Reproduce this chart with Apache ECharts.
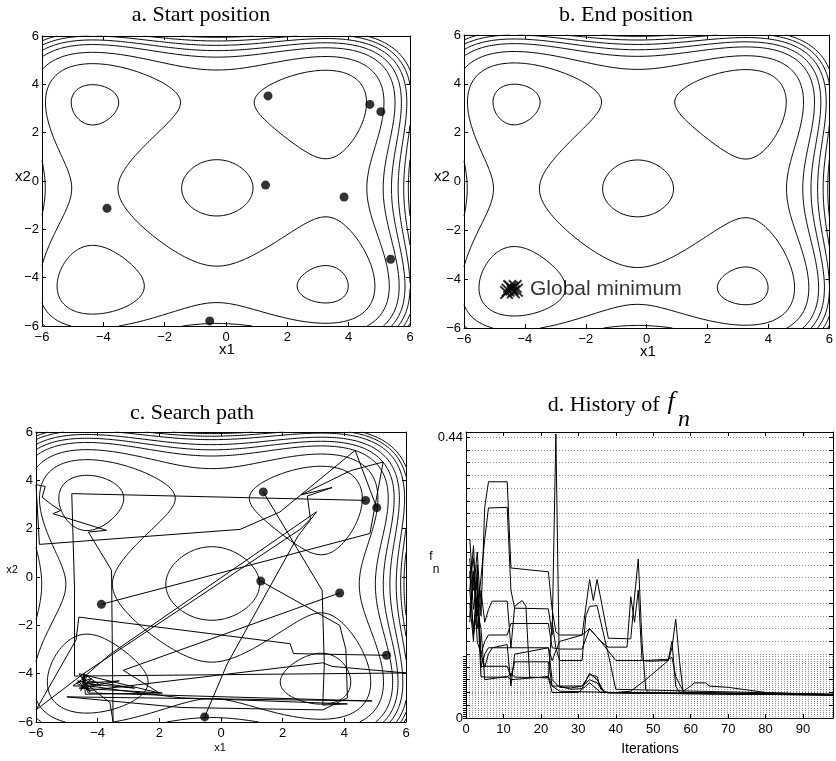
<!DOCTYPE html>
<html>
<head>
<meta charset="utf-8">
<title>Particle swarm search</title>
<script src="https://cdn.jsdelivr.net/npm/echarts@6/dist/echarts.min.js"></script>
<style>
  html, body { margin: 0; padding: 0; background: #fff; }
  #chart { width: 836px; height: 761px; }
</style>
</head>
<body>
<div id="chart"></div>
<script>
// ---- values ----
const searchXLabels = ['−6', '−4', '2', '0', '2', '4', '6']; // panel c prints "2" at -2

// cost surface: separable quartic, turning points of each coordinate
const turningPoints = [-4.35, -0.3, 3.25];
const levelsAB = [-95, -52, -8, 33, 62, 90, 117, 142];
const levelsC = [-88, -52, -14, 22, 47, 72, 100, 122, 140];

// particles at the start
const startX = [1.37, 4.69, 5.05, 1.29, 3.85, -3.88, 5.37, -0.53];
const startY = [3.52, 3.17, 2.87, -0.17, -0.66, -1.13, -3.24, -5.79];

// particles at the end
const endX = [-4.55, -4.45, -4.38, -4.32, -4.5, -4.28, -4.6, -4.42];
const endY = [-4.45, -4.35, -4.52, -4.3, -4.3, -4.45, -4.55, -4.4];
const minLabelAt = [-3.85, -4.4];

// search paths, one per particle
const path0 = [[1.37,3.52],[3.28,-0.55],[3.35,-3.6],[3.3,-5.3],[4.1,-5.25],[-1.3,-5.0],[-3.2,-4.7],[-4.3,-4.5],[-4.45,-4.4]];
const path1 = [[4.69,3.17],[-4.84,3.45],[-4.75,-0.5],[-4.75,-4.1],[6.0,-3.97],[3.6,-3.7],[3.3,-3.55],[-4.3,-4.7],[-4.45,-4.4]];
const path2 = [[5.05,2.87],[4.35,5.24],[1.91,2.69],[0.62,1.97],[-5.89,1.35],[-6,3.82],[-5.7,3.75],[-5.8,3.3],[-5.5,3.0],
               [-5.2,2.75],[-5.45,2.62],[-3.71,1.93],[-4.3,1.86],[-3.55,0.28],[-3.5,-6.0],[-3.6,-5.2],[-4.5,-4.3],[-4.45,-4.4]];
const path3 = [[-3.88,-1.13],[4.83,1.8],[5.26,4.76],[4.2,4.4],[2.6,3.4],[3.6,3.7],[2.8,3.35],[2.9,2.4],[2.6,2.0],[-4.46,-4.0],[-4.4,-4.4]];
const path4 = [[1.29,-0.17],[3.85,-2.0],[4.05,-3.0],[4.1,-5.0],[3.3,-5.5],[-1.3,-5.4],[-5.0,-4.96],[4.9,-5.13],[-4.3,-4.8],[-4.45,-4.4]];
const path5 = [[3.85,-0.66],[-3.17,-3.86],[-2.0,-4.8],[-4.6,-4.0],[-4.3,-4.6],[-4.7,-4.4],[-4.2,-4.2],[-4.55,-4.7],[-4.35,-4.1],
               [-4.8,-4.5],[-4.1,-4.55],[-4.5,-4.15],[-4.25,-4.75],[-4.65,-4.3],[-3.9,-4.5],[-4.45,-4.0],[-4.4,-4.85],
               [-1.9,-4.8],[-4.6,-4.6],[-3.3,-4.3],[-4.5,-4.4],[-2.8,-4.6],[-4.3,-4.3]];
const path6 = [[5.37,-3.24],[2.35,-3.17],[2.24,-2.76],[-4.61,-1.66],[-4.7,-2.6],[-6.0,-5.5],[-4.46,-4.0],[-4.4,-4.4]];
const path7 = [[-0.53,-5.79],[0.2,-3.6],[2.5,1.7],[3.1,2.7],[-3.6,-3.2],[-4.5,-4.2],[-4.42,-4.42]];
const searchPaths = [path0, path1, path2, path3, path4, path5, path6, path7];

// history of f_n, [iteration, value] per particle
const hist0 = [[1,0.28],[2,0.2],[3,0.26],[4,0.16],[5,0.33],[6,0.37],[11,0.37],[12,0.235],[17,0.232],[22,0.229],[23,0.17],[24,0.135],[25,0.13],[31,0.13],[33,0.217],[34,0.184],[35,0.217],[38,0.125],[44,0.124],[45,0.19],[46,0.249],[47,0.12],[48,0.045],[49,0.039],[60,0.038],[98,0.036]];
const hist1 = [[1,0.22],[2,0.25],[3,0.16],[4,0.22],[5,0.28],[6,0.329],[11,0.33],[12,0.2],[13,0.172],[22,0.171],[23,0.13],[24,0.445],[25,0.05],[28,0.045],[31,0.046],[33,0.07],[35,0.06],[37,0.04],[98,0.036]];
const hist2 = [[1,0.2],[2,0.27],[3,0.14],[4,0.2],[5,0.15],[6,0.17],[7,0.183],[11,0.183],[12,0.11],[13,0.175],[15,0.184],[16,0.175],[17,0.064],[22,0.063],[23,0.15],[24,0.11],[25,0.09],[31,0.09],[32,0.16],[33,0.175],[35,0.176],[36,0.15],[38,0.1],[40,0.045],[98,0.037]];
const hist3 = [[1,0.15],[2,0.22],[3,0.2],[4,0.1],[5,0.12],[6,0.13],[11,0.13],[12,0.148],[22,0.148],[23,0.11],[25,0.108],[31,0.108],[33,0.14],[36,0.12],[38,0.111],[43,0.111],[44,0.19],[45,0.15],[46,0.2],[47,0.09],[49,0.089],[54,0.09],[55,0.11],[56,0.155],[57,0.09],[58,0.04],[98,0.036]];
const hist4 = [[1,0.18],[2,0.12],[3,0.24],[4,0.08],[5,0.1],[6,0.11],[11,0.11],[12,0.11],[22,0.11],[23,0.06],[25,0.048],[28,0.047],[31,0.05],[33,0.06],[35,0.055],[37,0.04],[98,0.037]];
const hist5 = [[1,0.25],[2,0.17],[3,0.22],[4,0.08],[5,0.081],[11,0.081],[12,0.065],[13,0.088],[22,0.088],[23,0.05],[25,0.05],[31,0.05],[33,0.068],[35,0.065],[36,0.045],[38,0.039],[98,0.036]];
const hist6 = [[1,0.2],[2,0.14],[3,0.19],[4,0.065],[5,0.064],[11,0.064],[12,0.07],[13,0.064],[22,0.063],[23,0.04],[30,0.04],[33,0.055],[34,0.05],[36,0.04],[98,0.037]];
const hist7 = [[1,0.16],[2,0.23],[3,0.12],[4,0.1],[5,0.08],[6,0.1],[7,0.11],[11,0.115],[12,0.05],[13,0.1],[22,0.11],[23,0.09],[25,0.12],[31,0.13],[33,0.14],[36,0.12],[40,0.09],[48,0.09],[54,0.092],[55,0.095],[56,0.065],[58,0.042],[60,0.05],[61,0.055],[64,0.055],[65,0.05],[70,0.048],[80,0.04],[98,0.036]];
const hist8 = [[1,0.23],[2,0.13],[3,0.17],[4,0.14],[5,0.06],[11,0.065],[12,0.06],[22,0.065],[23,0.05],[25,0.042],[31,0.041],[40,0.04],[44,0.042],[48,0.06],[52,0.08],[54,0.09],[55,0.12],[56,0.05],[57,0.04],[98,0.037]];
const histories = [hist0, hist1, hist2, hist3, hist4, hist5, hist6, hist7, hist8];

// ---- helpers ----
const SANS = 'Liberation Sans, Arial, Helvetica, sans-serif';
const SERIF = 'Liberation Serif, Times New Roman, serif';
const minus = v => (v < 0 ? '−' + (-v) : String(v));

function g(t) {
  const [a, b, c] = turningPoints;
  const s1 = a + b + c, s2 = a * b + b * c + a * c, s3 = a * b * c;
  return t * t * t * t / 4 - s1 * t * t * t / 3 + s2 * t * t / 2 - s3 * t;
}
function surface(x, y) { return g(x) + g(y); }

// marching squares, segments chained into polylines
function contourPaths(levels) {
  const N = 161, lo = -6, step = 12 / (N - 1);
  const z = [];
  for (let i = 0; i < N; i++) {
    z.push([]);
    for (let j = 0; j < N; j++) z[i].push(surface(lo + i * step, lo + j * step));
  }
  const out = [];
  levels.forEach(L => {
    const pts = {}, adj = {};
    const link = (k1, k2) => {
      (adj[k1] = adj[k1] || []).push(k2);
      (adj[k2] = adj[k2] || []).push(k1);
    };
    const pt = (key, x1, y1, z1, x2, y2, z2) => {
      if (!pts[key]) {
        const t = (L - z1) / (z2 - z1);
        pts[key] = [x1 + t * (x2 - x1), y1 + t * (y2 - y1)];
      }
      return key;
    };
    const cross = (p, q) => (p < L) !== (q < L);
    for (let i = 0; i < N - 1; i++) {
      for (let j = 0; j < N - 1; j++) {
        const x0 = lo + i * step, x1 = x0 + step, y0 = lo + j * step, y1 = y0 + step;
        const za = z[i][j], zb = z[i + 1][j], zc = z[i + 1][j + 1], zd = z[i][j + 1];
        const e = [null, null, null, null];
        if (cross(za, zb)) e[0] = pt('h' + i + '_' + j, x0, y0, za, x1, y0, zb);
        if (cross(zb, zc)) e[1] = pt('v' + (i + 1) + '_' + j, x1, y0, zb, x1, y1, zc);
        if (cross(zd, zc)) e[2] = pt('h' + i + '_' + (j + 1), x0, y1, zd, x1, y1, zc);
        if (cross(za, zd)) e[3] = pt('v' + i + '_' + j, x0, y0, za, x0, y1, zd);
        const hit = e.filter(k => k);
        if (hit.length === 2) link(hit[0], hit[1]);
        else if (hit.length === 4) {
          const zm = (za + zb + zc + zd) / 4;
          if ((zm < L) === (za < L)) { link(e[0], e[1]); link(e[2], e[3]); }
          else { link(e[3], e[0]); link(e[1], e[2]); }
        }
      }
    }
    const used = new Set();
    const walk = start => {
      const line = [pts[start]];
      used.add(start);
      let cur = start;
      while (true) {
        const nx = adj[cur].find(k => !used.has(k));
        if (!nx) {
          if (line.length > 2 && adj[cur].includes(start)) line.push(pts[start]);
          break;
        }
        used.add(nx);
        line.push(pts[nx]);
        cur = nx;
      }
      return line;
    };
    Object.keys(adj).forEach(k => { if (!used.has(k) && adj[k].length === 1) out.push(walk(k)); });
    Object.keys(adj).forEach(k => { if (!used.has(k)) out.push(walk(k)); });
  });
  return out;
}

const grids = [
  { left: 42, top: 36, width: 368, height: 290 },   // a
  { left: 464, top: 35, width: 371, height: 293 },  // b
  { left: 36, top: 432, width: 370, height: 290 },  // c
  { left: 466, top: 432, width: 367, height: 286 }  // d
];
const Y_MAX_D = 0.448, DENSE_TOP = 0.096;
grids.push({ left: 466, width: 367, top: 432 + 286 * (1 - DENSE_TOP / Y_MAX_D), height: 286 * DENSE_TOP / Y_MAX_D });

const tick = { show: true, inside: true, length: 4, lineStyle: { color: '#000' } };
const line = { show: true, onZero: false, lineStyle: { color: '#000', width: 1 } };
const lab = { fontFamily: SANS, fontSize: 13, color: '#000' };

function xPair(gi, min, max, interval, fmt) {
  return [
    { type: 'value', gridIndex: gi, position: 'bottom', min, max, interval,
      axisLine: line, axisTick: tick, splitLine: { show: false },
      axisLabel: Object.assign({ margin: 5, formatter: fmt }, lab) },
    { type: 'value', gridIndex: gi, position: 'top', min, max, interval,
      axisLine: line, axisTick: tick, splitLine: { show: false }, axisLabel: { show: false } }
  ];
}
function yPair(gi, min, max, interval, fmt, split) {
  return [
    { type: 'value', gridIndex: gi, position: 'left', min, max, interval,
      axisLine: line, axisTick: tick, splitLine: split || { show: false },
      axisLabel: Object.assign({ margin: 3, formatter: fmt }, lab) },
    { type: 'value', gridIndex: gi, position: 'right', min, max, interval,
      axisLine: line, axisTick: tick, splitLine: { show: false }, axisLabel: { show: false } }
  ];
}

const fmtXY = v => minus(v);
const fmtC = v => searchXLabels[Math.round((v + 6) / 2)];
const fmtIter = v => (v % 10 === 0 ? String(v) : '');
const fmtF = v => (Math.abs(v) < 1e-9 ? '0' : Math.abs(v - 0.44) < 1e-6 ? '0.44' : '');

const dotted = { show: true, lineStyle: { type: [1, 2], color: '#8a8a8a', width: 1 } };

const xAxes = [].concat(
  xPair(0, -6, 6, 2, fmtXY), xPair(1, -6, 6, 2, fmtXY), xPair(2, -6, 6, 2, fmtC),
  xPair(3, 0, 98, 10, fmtIter),
  [{ type: 'value', gridIndex: 4, min: 0, max: 98, show: false }]
);
const yAxes = [].concat(
  yPair(0, -6, 6, 2, fmtXY), yPair(1, -6, 6, 2, fmtXY), yPair(2, -6, 6, 2, fmtXY),
  yPair(3, 0, Y_MAX_D, 0.02, fmtF, dotted),
  [{ type: 'value', gridIndex: 4, min: 0, max: DENSE_TOP, interval: 0.0032, position: 'right',
     axisLine: { show: false }, axisTick: { show: true, inside: true, length: 3, lineStyle: { color: '#000' } },
     axisLabel: { show: false }, splitLine: dotted }]
);

const contourAB = contourPaths(levelsAB).map(c => ({ coords: c }));
const contourC = contourPaths(levelsC).map(c => ({ coords: c }));
const contourSeries = (data, gi) => ({
  type: 'lines', coordinateSystem: 'cartesian2d', xAxisIndex: gi * 2, yAxisIndex: gi * 2,
  polyline: true, silent: true, data,
  lineStyle: { color: '#000', width: 1, opacity: 1 }
});
const startPoints = startX.map((x, i) => [x, startY[i]]);
const dots = gi => ({
  type: 'scatter', xAxisIndex: gi * 2, yAxisIndex: gi * 2, data: startPoints,
  symbol: 'circle', symbolSize: 9, itemStyle: { color: '#000' }, z: 5
});
const crossPath = 'path://M0,1L1,0L5,4L9,0L10,1L6,5L10,9L9,10L5,6L1,10L0,9L4,5Z';

const series = [
  contourSeries(contourAB, 0), dots(0),
  contourSeries(contourAB, 1),
  { type: 'scatter', xAxisIndex: 2, yAxisIndex: 2, data: endX.map((x, i) => [x, endY[i]]),
    symbol: crossPath, symbolSize: 14, itemStyle: { color: '#000' }, z: 5 },
  { type: 'scatter', xAxisIndex: 2, yAxisIndex: 2, data: [minLabelAt], symbolSize: 1,
    itemStyle: { color: 'rgba(0,0,0,0)' },
    label: { show: true, position: 'right', distance: 0, formatter: 'Global minimum',
             fontFamily: SANS, fontSize: 21, color: '#000' } },
  contourSeries(contourC, 2)
];
searchPaths.forEach(p => series.push({
  type: 'line', xAxisIndex: 4, yAxisIndex: 4, data: p, showSymbol: false, silent: true,
  lineStyle: { color: '#000', width: 1 }, z: 3
}));
series.push(dots(2));
histories.forEach(h => series.push({
  type: 'line', xAxisIndex: 6, yAxisIndex: 6, data: h, showSymbol: false, silent: true,
  lineStyle: { color: '#000', width: 1 }
}));

const text = (x, y, t, font, extra) => ({
  type: 'text', x, y,
  style: Object.assign({ text: t, font, fill: '#000', align: 'center', verticalAlign: 'middle' }, extra || {})
});
const graphics = [
  text(201, 15, 'a. Start position', '22px ' + SERIF),
  text(626, 15, 'b. End position', '22px ' + SERIF),
  text(192, 413, 'c. Search path', '22px ' + SERIF),
  text(665, 405, 'd. History of ', '22px ' + SERIF, { align: 'right' }),
  text(671, 402, 'f', 'italic 26px ' + SERIF),
  text(684, 420, 'n', 'italic 24px ' + SERIF),
  text(227, 350, 'x1', '15px ' + SANS),
  text(23, 177, 'x2', '15px ' + SANS),
  text(648, 352, 'x1', '15px ' + SANS),
  text(442, 177, 'x2', '15px ' + SANS),
  text(220, 748, 'x1', '11px ' + SANS),
  text(12, 570, 'x2', '11px ' + SANS),
  text(650, 749, 'Iterations', '14px ' + SANS),
  text(431, 557, 'f', '12px ' + SANS),
  text(436, 570, 'n', '12px ' + SANS)
];

const chart = echarts.init(document.getElementById('chart'), null, { renderer: 'canvas' });
chart.setOption({
  animation: false,
  backgroundColor: '#fff',
  grid: grids,
  xAxis: xAxes,
  yAxis: yAxes,
  series,
  graphic: graphics
});
</script>
</body>
</html>
